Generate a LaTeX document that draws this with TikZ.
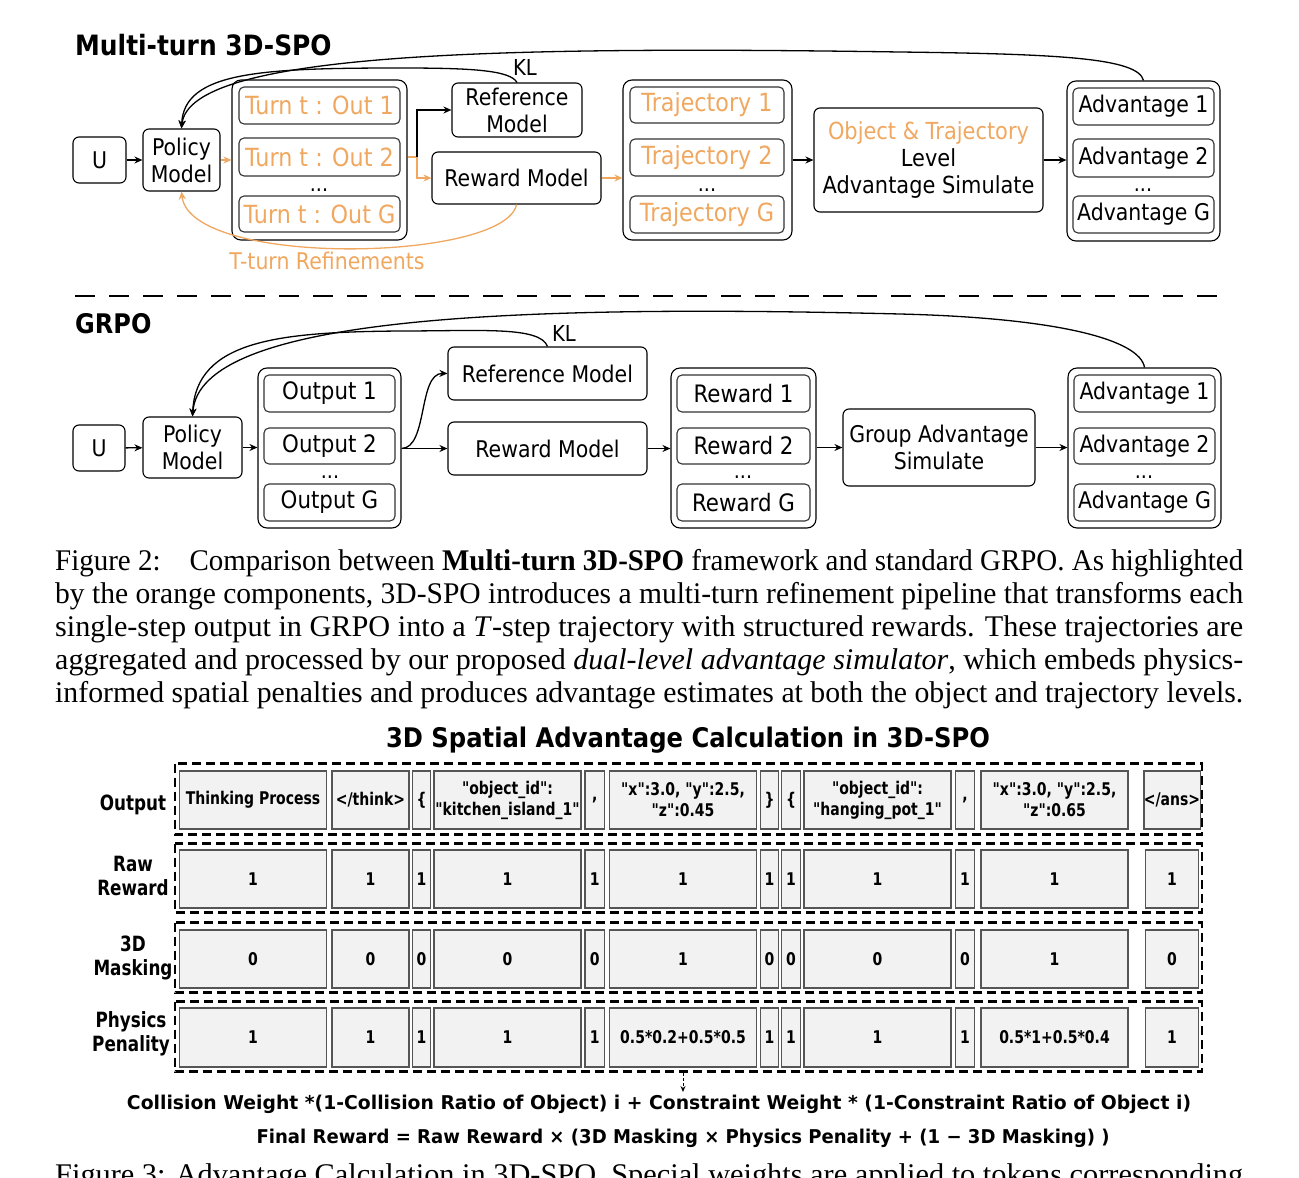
\documentclass[tikz,border=0pt]{standalone}
\usepackage{fontspec}
\usepackage{graphicx}
\usetikzlibrary{arrows.meta}
\setmainfont{Liberation Serif}
\newfontfamily\cf[FakeStretch=0.89]{DejaVu Sans}
\newfontfamily\tf[FakeStretch=0.8,Ligatures=TeXOff]{DejaVu Sans}
\definecolor{orng}{RGB}{240,168,96}
\definecolor{tfill}{RGB}{242,242,242}
\definecolor{tgray}{RGB}{85,85,85}
\newcommand\bx[7]{\node[#6, minimum width={(#4-#2)*1pt}, minimum height={(#5-#3)*1pt}] (#1) at ({(#2+#4)/2},{(#3+#5)/2}) {#7};}
\newcommand\capline[3]{\node[anchor=base west, inner sep=0pt, font=\fontsize{30}{33}\selectfont] (#1) at (55,#2) {\resizebox{1188pt}{\height}{#3}};}
\tikzset{
  box/.style={draw=black, line width=1.1pt, rounded corners=6pt, align=center, inner sep=0pt, font=\cf\fontsize{23}{27}\selectfont},
  ibox/.style={draw=black!80, line width=1.1pt, rounded corners=5pt, inner sep=0pt, font=\cf\fontsize{23}{26}\selectfont},
  obox/.style={ibox, text=orng, font=\cf\fontsize{25}{28}\selectfont},
  gbox/.style={ibox, font=\cf\fontsize{24}{27}\selectfont},
  cont/.style={draw=black, line width=1.1pt, rounded corners=9pt, inner sep=0pt},
  arr/.style={-{Stealth[length=8pt,width=7pt]}, line width=1.3pt},
  oarr/.style={arr, draw=orng},
  tok/.style={draw=tgray, fill=tfill, line width=1.3pt, inner sep=0pt, align=center, font=\tf\bfseries\fontsize{17.5}{21}\selectfont},
  rowbox/.style={draw=black, line width=2.5pt, dash pattern=on 9pt off 5pt},
  dots/.style={anchor=base, inner sep=0pt, font=\cf\fontsize{21.5}{25}\selectfont},
  rlab/.style={align=center, inner sep=0pt, font=\tf\bfseries\fontsize{21}{24}\selectfont},
}
\begin{document}
\begin{tikzpicture}[x=1pt,y=-1pt]
\fill[white] (0,0) rectangle (1299,1178);
\useasboundingbox (0,0) rectangle (1299,1178);
\clip (0,0) rectangle (1299,1178);

% ================= TOP: Multi-turn 3D-SPO =================
\node[anchor=base west, inner sep=0pt, font=\cf\bfseries\fontsize{28}{30}\selectfont] (t1) at (75,55) {Multi-turn 3D-SPO};
\bx{U1}{73}{137}{126}{183}{box}{U}
\bx{P1}{143}{129}{220}{191}{box}{Policy\\Model}
\bx{outer1}{232}{80}{407}{240}{cont}{}
\bx{out1}{239}{87}{400}{124}{obox}{Turn t : Out 1}
\bx{out2}{239}{138}{400}{176}{obox}{Turn t : Out 2}
\bx{outG}{239}{196}{400}{232}{obox}{Turn t : Out G}
\node[dots] (d1) at (319,191) {...};
\bx{ref1}{452}{83}{582}{137}{box}{Reference\\Model}
\bx{rm1}{432}{152}{601}{204}{box}{Reward Model}
\bx{trajc}{623}{80}{792}{240}{cont}{}
\bx{tr1}{630}{87}{784}{123}{obox}{Trajectory 1}
\bx{tr2}{630}{139}{784}{176}{obox}{Trajectory 2}
\bx{trG}{630}{196}{784}{233}{obox}{Trajectory G}
\node[dots] (d2) at (707,191) {...};
\bx{obj}{814}{108}{1043}{212}{box,font=\cf\fontsize{23.5}{26.7}\selectfont}{{\color{orng}Object \& Trajectory}\\Level\\Advantage Simulate}
\bx{advc}{1067}{81}{1220}{241}{cont}{}
\bx{a1}{1073}{88}{1214}{125}{ibox}{Advantage 1}
\bx{a2}{1073}{139}{1214}{177}{ibox}{Advantage 2}
\bx{aG}{1073}{196}{1214}{233}{ibox}{Advantage G}
\node[dots] (d3) at (1143,191) {...};

\draw[arr] (U1) -- (P1);
\draw[oarr] (P1) -- (outer1);
\coordinate (sp1) at (417,157);
\draw[orng, line width=1.3pt] (outer1.east |- out2.east) -- (sp1);
\draw[arr] (sp1) |- (ref1.west);
\draw[oarr] (sp1) |- (rm1.west);
\draw[oarr] (rm1.east) -- (trajc.west |- rm1.east);
\draw[arr] (trajc.east |- obj.west) -- (obj.west);
\draw[arr] (obj.east) -- (advc.west |- obj.east);
\draw[arr] (advc.north) .. controls (1138,58) and (1060,54) .. (900,52) .. controls (500,46) and (190,52) .. (P1.north);
\draw[arr] (ref1.north) .. controls (510,70) and (470,68) .. (400,68) .. controls (260,68) and (184,72) .. (P1.north);
\node[inner sep=0pt, font=\cf\fontsize{22}{24}\selectfont] (kl1) at (525,67) {KL};
\draw[oarr] (rm1.south) .. controls (505,262) and (190,268) .. (P1.south);
\node[inner sep=0pt, text=orng, font=\cf\fontsize{23}{26}\selectfont] (tt) at (327,261) {T-turn Refinements};

% separator
\coordinate (sa) at (75,296);
\coordinate (sb) at (1222,296);
\draw[line width=2.5pt, dash pattern=on 20pt off 14pt] (sa) -- (sb);

% ================= BOTTOM: GRPO =================
\node[anchor=base west, inner sep=0pt, font=\cf\bfseries\fontsize{27}{30}\selectfont] (t2) at (75,333) {GRPO};
\bx{U2}{73}{425}{125}{471}{box}{U}
\bx{P2}{143}{417}{242}{478}{box}{Policy\\Model}
\bx{outc}{258}{368}{401}{528}{cont}{}
\bx{o1}{264}{375}{395}{412}{gbox}{Output 1}
\bx{o2}{264}{428}{395}{464}{gbox}{Output 2}
\bx{oG}{264}{484}{395}{521}{gbox}{Output G}
\node[dots] (d4) at (330,478) {...};
\bx{ref2}{448}{347}{647}{400}{box}{Reference Model}
\bx{rm2}{448}{422}{647}{475}{box}{Reward Model}
\bx{rwc}{671}{368}{816}{528}{cont}{}
\bx{r1}{677}{375}{810}{412}{gbox}{Reward 1}
\bx{r2}{677}{428}{810}{464}{gbox}{Reward 2}
\bx{rG}{677}{484}{810}{521}{gbox}{Reward G}
\node[dots] (d5) at (743,478) {...};
\bx{grp}{843}{409}{1035}{486}{box,font=\cf\fontsize{23}{26.5}\selectfont}{Group Advantage\\Simulate}
\bx{advc2}{1068}{368}{1221}{528}{cont}{}
\bx{b1}{1074}{375}{1215}{412}{ibox}{Advantage 1}
\bx{b2}{1074}{428}{1215}{464}{ibox}{Advantage 2}
\bx{bG}{1074}{484}{1215}{521}{ibox}{Advantage G}
\node[dots] (d6) at (1144,478) {...};

\draw[arr] (U2) -- (P2);
\draw[arr] (P2.east) -- (outc.west |- P2.east);
\draw[arr] (outc.east |- rm2.west) -- (rm2.west);
\draw[arr] (outc.east |- rm2.west) .. controls (428,448) and (418,373) .. (ref2.west);
\draw[arr] (rm2.east) -- (rwc.west |- rm2.east);
\draw[arr] (rwc.east |- grp.west) -- (grp.west);
\draw[arr] (grp.east) -- (advc2.west |- grp.east);
\draw[arr] (advc2.north) .. controls (1140,340) and (1060,318) .. (900,314) .. controls (500,304) and (200,318) .. (P2.north);
\draw[arr] (ref2.north) .. controls (540,326) and (480,331) .. (400,331) .. controls (280,332) and (196,340) .. (P2.north);
\node[inner sep=0pt, font=\cf\fontsize{22}{24}\selectfont] (kl2) at (564,333) {KL};

% ================= Captions =================
\capline{c1}{570}{Figure 2:\quad Comparison between \textbf{Multi-turn 3D-SPO} framework and standard GRPO. As highlighted}
\capline{c2}{603}{by the orange components, 3D-SPO introduces a multi-turn refinement pipeline that transforms each}
\capline{c3}{636}{single-step output in GRPO into a \textit{T}-step trajectory with structured rewards. These trajectories are}
\capline{c4}{669}{aggregated and processed by our proposed \textit{dual-level advantage simulator}, which embeds physics-}
\capline{c5}{702}{informed spatial penalties and produces advantage estimates at both the object and trajectory levels.}

% ================= Table =================
\node[inner sep=0pt, font=\tf\bfseries\fontsize{27}{30}\selectfont] (tt2) at (688,740) {\resizebox{604pt}{\height}{3D Spatial Advantage Calculation in 3D-SPO}};

\draw[rowbox] (175,763.5) rectangle (1202,834.5);
\draw[rowbox] (175,843.5) rectangle (1202,912.5);
\draw[rowbox] (175,922.5) rectangle (1202,992.5);
\draw[rowbox] (175,1001.5) rectangle (1202,1071.5);

\foreach \a/\b/\t/\u/\v/\w [count=\i] in {
  179.5/326.5/{Thinking Process}/1/0/1,
  332/409/{</think>}/1/0/1,
  412.5/430.5/{\{}/1/0/1,
  434/581/{"object\_id":\\"kitchen\_island\_1"}/1/0/1,
  585/604.5/{,}/1/0/1,
  609.5/756.5/{"x":3.0, "y":2.5,\\"z":0.45}/1/1/{0.5*0.2+0.5*0.5},
  760.5/778.5/{\}}/1/0/1,
  781.5/800.5/{\{}/1/0/1,
  804/951/{"object\_id":\\"hanging\_pot\_1"}/1/0/1,
  955.5/974.5/{,}/1/0/1,
  981/1128/{"x":3.0, "y":2.5,\\"z":0.65}/1/1/{0.5*1+0.5*0.4},
  1145.5/1198.5/{</ans>}/1/0/1}
{
  \bx{ra\i}{\a}{771}{\b}{829}{tok}{\t}
  \bx{rb\i}{\a}{850}{\b}{908}{tok}{\u}
  \bx{rc\i}{\a}{930}{\b}{988}{tok}{\v}
  \bx{rd\i}{\a}{1008}{\b}{1067}{tok}{\w}
}

\node[rlab] (l1) at (133,805) {Output};
\node[rlab] (l2) at (133,876) {Raw\\Reward};
\node[rlab] (l3) at (133,958) {3D\\Masking};
\node[rlab] (l4) at (131,1034) {Physics\\Penality};

\coordinate (pa) at (683,1073);
\coordinate (pb) at (683,1092);
\draw[line width=0.9pt, dash pattern=on 3pt off 2pt, -{Stealth[length=6pt,width=5pt]}] (pa) -- (pb);

\node[inner sep=0pt, font=\tf\bfseries\fontsize{19}{22}\selectfont] (f1) at (659,1104) {\resizebox{1064pt}{\height}{Collision Weight *(1-Collision Ratio of Object) i + Constraint Weight * (1-Constraint Ratio of Object i)}};
\node[inner sep=0pt, font=\tf\bfseries\fontsize{19}{22}\selectfont] (f2) at (683,1138) {\resizebox{853pt}{\height}{Final Reward = Raw Reward × (3D Masking × Physics Penality + (1 − 3D Masking) )}};

\capline{c6}{1184}{Figure 3: Advantage Calculation in 3D-SPO. Special weights are applied to tokens corresponding}
\end{tikzpicture}
\end{document}
